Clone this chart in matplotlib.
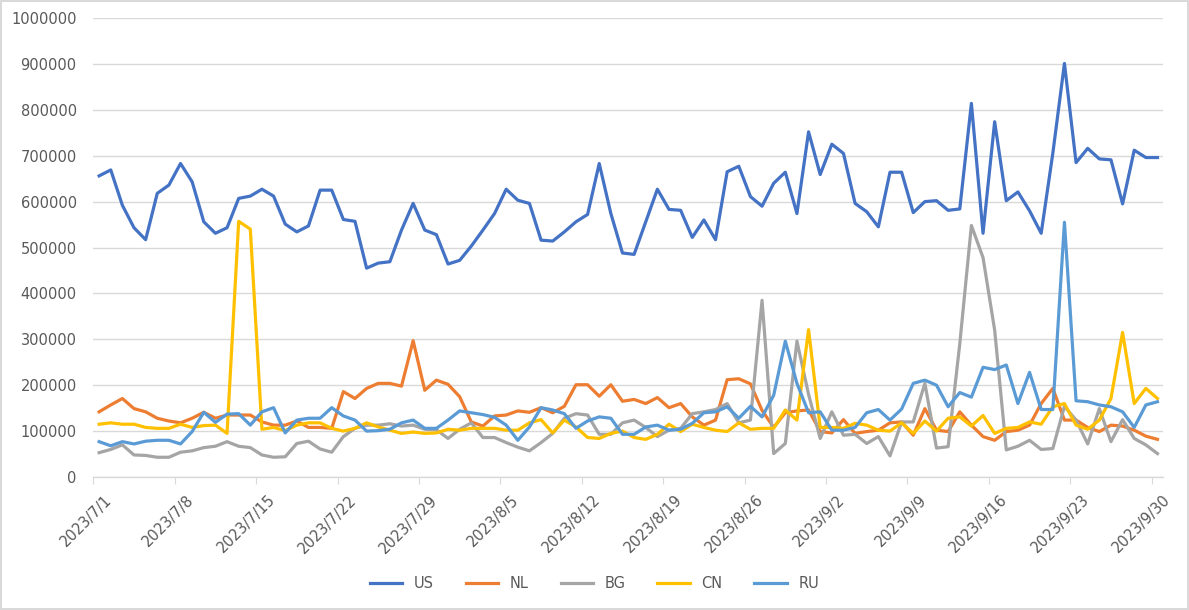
import numpy as np
import pandas as pd
import matplotlib
matplotlib.use('Agg')
import matplotlib.pyplot as plt
import matplotlib.transforms as mtransforms

# daily values, 2023/7/1 .. 2023/9/30 (in thousands)
us = [656, 669, 592, 543, 517, 618, 636, 683, 643, 556,
      531, 543, 607, 612, 627, 612, 551, 534, 547, 625,
      625, 561, 557, 455, 466, 469, 538, 596, 538, 528,
      464, 472, 503, 538, 574, 627, 603, 596, 516, 514,
      534, 556, 572, 683, 574, 488, 485, 556, 627, 583,
      581, 522, 560, 517, 665, 677, 611, 590, 640, 664,
      574, 752, 659, 725, 705, 596, 578, 545, 664, 664,
      576, 600, 602, 581, 584, 814, 531, 774, 602, 621,
      580, 531, 705, 901, 685, 716, 693, 691, 595, 712,
      696, 696]
nl = [142, 157, 171, 149, 142, 128, 122, 118, 128, 141,
      128, 135, 135, 135, 120, 113, 113, 122, 108, 108,
      106, 186, 171, 193, 204, 204, 198, 297, 189, 211,
      202, 175, 120, 111, 133, 135, 144, 141, 151, 140,
      154, 201, 201, 176, 201, 165, 169, 160, 173, 151,
      160, 131, 113, 124, 212, 214, 203, 145, 108, 140,
      144, 146, 99, 96, 125, 95, 99, 102, 118, 120,
      91, 149, 102, 99, 142, 113, 88, 80, 99, 102,
      113, 160, 193, 124, 124, 108, 99, 113, 111, 102,
      89, 82]
bg = [53, 60, 70, 48, 47, 43, 43, 54, 57, 64,
      67, 77, 67, 64, 48, 43, 44, 73, 78, 61,
      54, 88, 106, 113, 113, 116, 111, 113, 104, 103,
      84, 104, 118, 86, 86, 75, 65, 57, 75, 95,
      128, 138, 135, 93, 93, 118, 124, 108, 88, 102,
      106, 138, 142, 147, 160, 118, 124, 385, 51, 73,
      296, 180, 84, 142, 91, 93, 73, 88, 46, 120,
      120, 204, 63, 66, 290, 548, 478, 320, 59, 67,
      80, 60, 62, 154, 124, 72, 149, 77, 125, 84,
      70, 51]
cn = [115, 118, 115, 115, 108, 106, 106, 115, 108, 112,
      113, 95, 557, 540, 104, 108, 101, 113, 118, 118,
      106, 100, 106, 118, 109, 102, 95, 98, 95, 96,
      104, 102, 106, 106, 106, 102, 102, 118, 125, 96,
      124, 109, 86, 84, 95, 100, 86, 82, 93, 115,
      99, 115, 108, 102, 99, 118, 104, 106, 106, 146,
      124, 321, 108, 108, 106, 117, 113, 102, 100, 118,
      95, 122, 100, 128, 131, 111, 134, 95, 106, 108,
      120, 115, 153, 160, 113, 104, 124, 171, 315, 160,
      193, 171]
ru = [77, 68, 77, 72, 78, 80, 80, 72, 99, 141,
      119, 137, 138, 113, 142, 151, 96, 124, 128, 128,
      151, 133, 124, 100, 101, 104, 118, 124, 106, 106,
      124, 144, 140, 136, 130, 113, 80, 109, 151, 146,
      138, 106, 122, 131, 128, 93, 93, 109, 113, 102,
      104, 117, 140, 142, 153, 128, 154, 131, 178, 296,
      204, 140, 142, 102, 102, 108, 140, 147, 124, 148,
      204, 211, 200, 153, 184, 174, 239, 234, 244, 160,
      228, 147, 147, 555, 166, 164, 157, 153, 142, 108,
      157, 164]

series_names = ['US', 'NL', 'BG', 'CN', 'RU']
series_colors = ['#4472C4', '#ED7D31', '#A5A5A5', '#FFC000', '#5B9BD5']
dates = pd.date_range('2023-07-01', '2023-09-30', freq='D')
tick_labels = [f'{d.year}/{d.month}/{d.day}' for d in dates[::7]]

fig = plt.figure(figsize=(11.89, 6.10), dpi=100)
fig.patch.set_edgecolor('#D9D9D9')
fig.patch.set_linewidth(1.5)
ax = fig.add_axes([93.3 / 1189, 133 / 610, 1070 / 1189, 459 / 610])

x = np.arange(len(dates)) + 0.5
for name, vals, col in zip(series_names, [us, nl, bg, cn, ru], series_colors):
    ax.plot(x, np.array(vals) * 1000, color=col, linewidth=2.3, label=name,
            solid_joinstyle='round')

ax.set_xlim(0, len(dates))
ax.set_ylim(0, 1000000)
ax.set_yticks(np.arange(0, 1000001, 100000))
ax.set_yticklabels([str(v) for v in range(0, 1000001, 100000)])
ax.set_xticks(np.arange(0, len(dates), 7))
ax.set_xticklabels(tick_labels, rotation=45, ha='right', rotation_mode='anchor')

ax.grid(axis='y', color='#D9D9D9', linewidth=1)
ax.set_axisbelow(True)
for s in ['left', 'right', 'top']:
    ax.spines[s].set_visible(False)
ax.spines['bottom'].set_color('#D9D9D9')
ax.spines['bottom'].set_linewidth(1)
ax.tick_params(axis='y', length=0, pad=12, labelsize=10.5, labelcolor='#595959')
ax.tick_params(axis='x', length=5, color='#D9D9D9', pad=4, labelsize=10.5,
               labelcolor='#595959')

offset = mtransforms.ScaledTranslation(8 / 72, -2 / 72, fig.dpi_scale_trans)
for lab in ax.get_xticklabels():
    lab.set_transform(lab.get_transform() + offset)

leg = fig.legend(loc='lower center', bbox_to_anchor=(0.5, 0.009), ncol=5,
                 frameon=False, handlelength=2.2, columnspacing=2.2,
                 fontsize=10.5)
for t in leg.get_texts():
    t.set_color('#595959')

fig.savefig('out.png', dpi=100, edgecolor=fig.get_edgecolor())
